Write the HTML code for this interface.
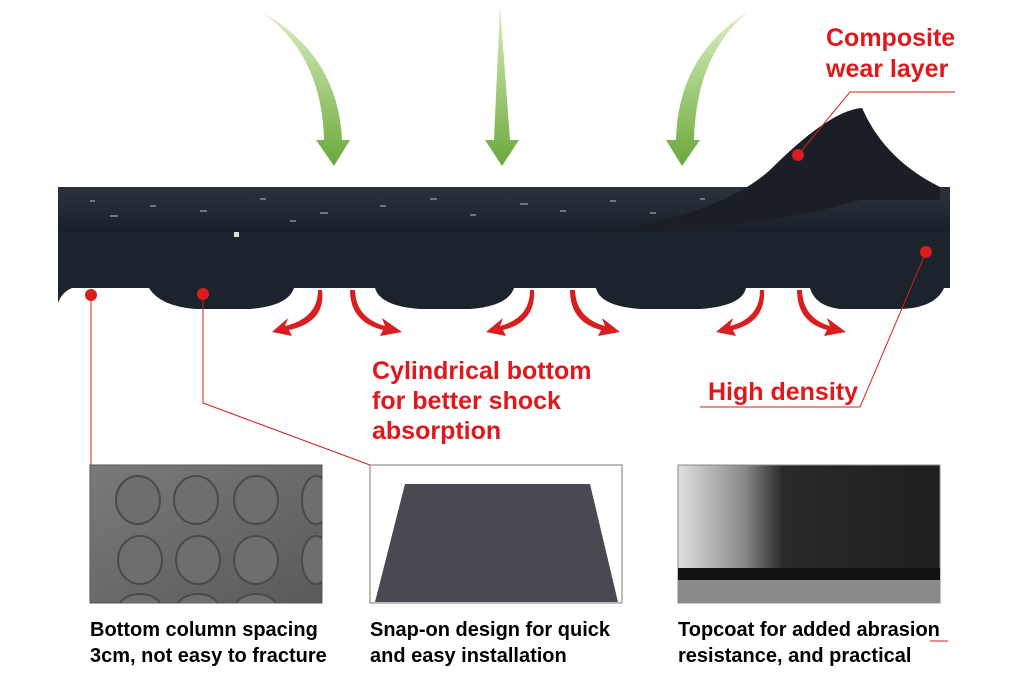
<!DOCTYPE html>
<html><head><style>
body{margin:0;width:1024px;height:683px;background:#fff;overflow:hidden;font-family:"Liberation Sans",sans-serif}
</style></head><body>
<svg width="1024" height="683" viewBox="0 0 1024 683" xmlns="http://www.w3.org/2000/svg">
<defs>
<linearGradient id="g" x1="0" y1="0" x2="0" y2="1"><stop offset="0" stop-color="#dcefc0"/><stop offset="1" stop-color="#6aa83a"/></linearGradient>
<linearGradient id="top" x1="0" y1="0" x2="0" y2="1"><stop offset="0" stop-color="#2a333d"/><stop offset="1" stop-color="#1a2029"/></linearGradient>
<linearGradient id="p1" x1="0" y1="0" x2="1" y2="1"><stop offset="0" stop-color="#7a7a7a"/><stop offset="1" stop-color="#5a5a5a"/></linearGradient>
<linearGradient id="p3" x1="0" y1="0" x2="1" y2="0"><stop offset="0" stop-color="#e0e0e0"/><stop offset="0.25" stop-color="#8a8a8a"/><stop offset="0.4" stop-color="#2a2a2a"/><stop offset="1" stop-color="#1e1e1e"/></linearGradient>
<clipPath id="c1"><rect x="90" y="465" width="232" height="138"/></clipPath>
</defs>
<!-- green arrows -->
<path d="M262 12 Q322 55 324 140 L316 140 L334 166 L350 140 L342 140 Q338 55 262 12Z" fill="url(#g)"/>
<path d="M500 6 L494 140 L485 140 L502 166 L519 140 L510 140Z" fill="url(#g)"/>
<path d="M748 12 Q678 55 676 140 L666 140 L682 166 L700 140 L694 140 Q696 55 748 12Z" fill="url(#g)"/>
<!-- mat body -->
<path d="M58 187 L950 187 L950 288 L944 288 Q935 308 900 309 L840 309 Q815 306 810 288 L746 288 Q742 306 700 309 L640 309 Q600 306 596 288 L514 288 Q508 306 470 309 L420 309 Q380 306 375 288 L294 288 Q288 306 250 309 L195 309 Q160 306 149 288 L72 288 Q62 292 58 303Z" fill="#1c232c"/>
<path d="M58 187 L950 187 L950 232 L58 232Z" fill="url(#top)"/>
<path d="M600 232 Q720 215 770 170 Q830 110 862 108 Q885 160 940 187 L940 200 L860 200 Q760 230 600 232Z" fill="#1a1f27"/>
<g fill="#8e98a2" opacity="0.7">
<rect x="110" y="215" width="8" height="2"/><rect x="150" y="205" width="6" height="2"/><rect x="200" y="210" width="7" height="2"/><rect x="260" y="198" width="6" height="2"/><rect x="320" y="212" width="8" height="2"/><rect x="380" y="205" width="6" height="2"/><rect x="430" y="198" width="7" height="2"/><rect x="470" y="214" width="6" height="2"/><rect x="520" y="203" width="8" height="2"/><rect x="560" y="210" width="6" height="2"/><rect x="610" y="200" width="6" height="2"/><rect x="650" y="212" width="6" height="2"/><rect x="700" y="198" width="5" height="2"/><rect x="90" y="200" width="5" height="2"/><rect x="290" y="220" width="6" height="2"/>
</g>
<rect x="234" y="232" width="5" height="5" fill="#ddd"/>
<!-- red arrows -->
<g fill="#d81e1e">
<path d="M318 290 Q318 318 285 326 L288 318 L272 332 L292 336 L289 330 Q326 322 322 290Z"/>
<path d="M355 290 Q356 318 385 326 L382 318 L402 332 L380 336 L383 330 Q350 322 350 290Z"/>
<path d="M530 290 Q530 318 500 326 L503 318 L486 332 L506 336 L503 330 Q536 322 534 290Z"/>
<path d="M575 290 Q576 318 605 326 L602 318 L620 332 L598 336 L601 330 Q570 322 570 290Z"/>
<path d="M760 290 Q760 318 730 326 L733 318 L716 332 L736 336 L733 330 Q766 322 764 290Z"/>
<path d="M802 290 Q803 318 830 326 L827 318 L846 332 L824 336 L827 330 Q797 322 797 290Z"/>
</g>
<!-- leader lines -->
<g stroke="#d81e1e" stroke-width="1" fill="none">
<path d="M798 155 L850 92 L955 92"/>
<path d="M926 252 L860 407 L700 407"/>
<path d="M91 295 L91 465"/>
<path d="M203 294 L203 403 L370 465"/>
<path d="M930 641 L948 641"/>
</g>
<g fill="#d81e1e"><circle cx="798" cy="155" r="6"/><circle cx="926" cy="252" r="6"/><circle cx="91" cy="295" r="6"/><circle cx="203" cy="294" r="6"/></g>
<g fill="#e0181c" font-weight="bold" font-size="25">
<text x="826" y="46">Composite</text><text x="826" y="77">wear layer</text>
<text x="708" y="400">High density</text>
<text x="372" y="379">Cylindrical bottom</text><text x="372" y="409">for better shock</text><text x="372" y="439">absorption</text>
</g>
<!-- photos -->
<rect x="90" y="465" width="232" height="138" fill="url(#p1)" stroke="#555"/>
<g fill="#6e6e6e" stroke="#4a4a4a" stroke-width="2" clip-path="url(#c1)">
<ellipse cx="138" cy="500" rx="22" ry="24"/><ellipse cx="196" cy="500" rx="22" ry="24"/><ellipse cx="256" cy="500" rx="22" ry="24"/><ellipse cx="316" cy="500" rx="14" ry="24"/>
<ellipse cx="140" cy="560" rx="22" ry="24"/><ellipse cx="198" cy="560" rx="22" ry="24"/><ellipse cx="256" cy="560" rx="22" ry="24"/><ellipse cx="316" cy="560" rx="14" ry="24"/>
<ellipse cx="140" cy="606" rx="20" ry="12"/><ellipse cx="198" cy="606" rx="20" ry="12"/><ellipse cx="256" cy="606" rx="20" ry="12"/>
</g>
<rect x="370" y="465" width="252" height="138" fill="#fff" stroke="#777"/>
<path d="M405 484 L590 484 L618 602 L375 602Z" fill="#4a4850"/>
<rect x="678" y="465" width="262" height="138" fill="url(#p3)" stroke="#888"/>
<rect x="678" y="568" width="262" height="12" fill="#111"/>
<rect x="678" y="580" width="262" height="23" fill="#8a8a8a"/>
<g fill="#000" font-weight="bold" font-size="20">
<text x="90" y="636">Bottom column spacing</text><text x="90" y="662">3cm, not easy to fracture</text>
<text x="370" y="636">Snap-on design for quick</text><text x="370" y="662">and easy installation</text>
<text x="678" y="636">Topcoat for added abrasion</text><text x="678" y="662">resistance, and practical</text>
</g>
</svg>
</body></html>
